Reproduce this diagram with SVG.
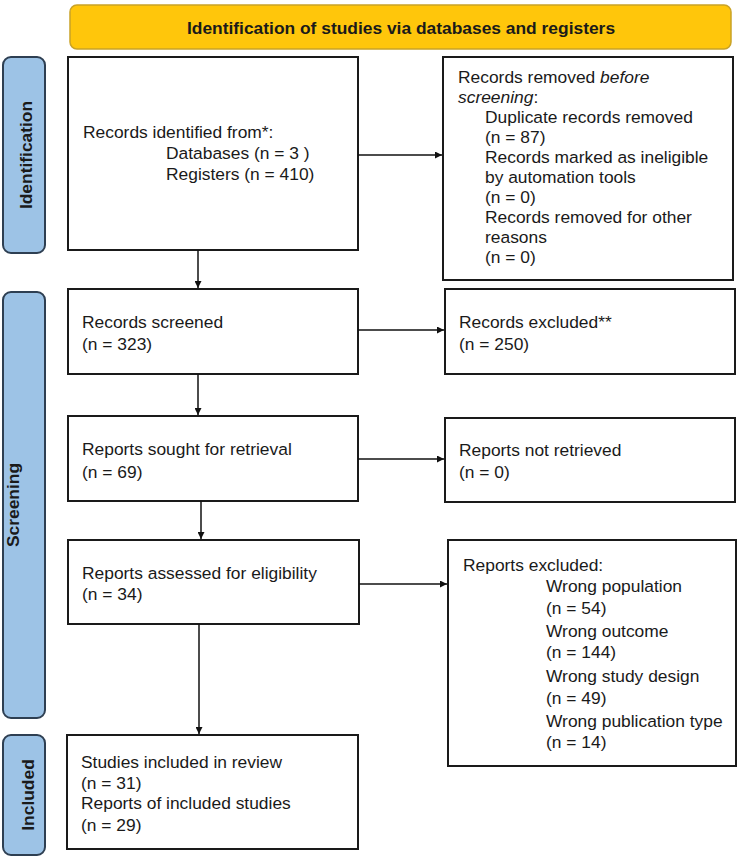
<svg xmlns="http://www.w3.org/2000/svg" width="738" height="859" viewBox="0 0 738 859">
  <defs>
    <marker id="arrow" viewBox="0 0 10 10" refX="10" refY="5" markerWidth="8" markerHeight="7" markerUnits="userSpaceOnUse" orient="auto">
      <path d="M0,0 L10,5 L0,10 z" fill="#111"/>
    </marker>
    <style>
      .box { fill: #fff; stroke: #1a1a1a; stroke-width: 2; }
      .tab { fill: #9dc3e6; stroke: #2e3f52; stroke-width: 2; }
      .hdr { fill: #ffc60b; stroke: #c9a227; stroke-width: 1.5; }
      .t { font-family: "Liberation Sans", Arial, sans-serif; font-size: 17.4px; fill: #1a1a1a; }
      .tb { font-family: "Liberation Sans", Arial, sans-serif; font-size: 17.4px; font-weight: bold; fill: #1a1a1a; }
      .conn { stroke: #111; stroke-width: 1.5; fill: none; marker-end: url(#arrow); }
    </style>
  </defs>
  <rect width="738" height="859" fill="#fff"/>

  <!-- header banner -->
  <g id="header">
    <rect class="hdr" x="70" y="5" width="661" height="44" rx="7"/>
    <text class="tb" x="401" y="34" text-anchor="middle">Identification of studies via databases and registers</text>
  </g>

  <!-- phase tabs -->
  <g id="tab-identification">
    <rect class="tab" x="3" y="57" width="42" height="196" rx="8"/>
    <text class="tb" transform="translate(32,155) rotate(-90)" text-anchor="middle">Identification</text>
  </g>
  <g id="tab-screening">
    <rect class="tab" x="3" y="292" width="42" height="426" rx="8"/>
    <text class="tb" transform="translate(19,505) rotate(-90)" text-anchor="middle">Screening</text>
  </g>
  <g id="tab-included">
    <rect class="tab" x="3" y="735" width="42" height="120" rx="8"/>
    <text class="tb" transform="translate(34,795) rotate(-90)" text-anchor="middle">Included</text>
  </g>

  <!-- main column -->
  <g id="identified">
    <rect class="box" x="68" y="57" width="290" height="193"/>
    <text class="t" x="83" y="138">Records identified from*:</text>
    <text class="t" x="166" y="159">Databases (n = 3 )</text>
    <text class="t" x="166" y="180">Registers (n = 410)</text>
  </g>
  <g id="screened">
    <rect class="box" x="68" y="289" width="290" height="85"/>
    <text class="t" x="82" y="328">Records screened</text>
    <text class="t" x="82" y="350">(n = 323)</text>
  </g>
  <g id="sought">
    <rect class="box" x="68" y="416" width="290" height="85"/>
    <text class="t" x="82" y="455">Reports sought for retrieval</text>
    <text class="t" x="82" y="478">(n = 69)</text>
  </g>
  <g id="assessed">
    <rect class="box" x="68" y="540" width="291" height="84"/>
    <text class="t" x="82" y="579">Reports assessed for eligibility</text>
    <text class="t" x="82" y="600">(n = 34)</text>
  </g>
  <g id="included">
    <rect class="box" x="67" y="735" width="291" height="114"/>
    <text class="t" x="81" y="768">Studies included in review</text>
    <text class="t" x="81" y="789">(n = 31)</text>
    <text class="t" x="81" y="809">Reports of included studies</text>
    <text class="t" x="81" y="831">(n = 29)</text>
  </g>

  <!-- side column -->
  <g id="removed">
    <rect class="box" x="443" y="57" width="290" height="223"/>
    <text class="t" x="458" y="83">Records removed <tspan font-style="italic">before</tspan></text>
    <text class="t" x="458" y="103"><tspan font-style="italic">screening</tspan>:</text>
    <text class="t" x="485" y="123">Duplicate records removed</text>
    <text class="t" x="485" y="143">(n = 87)</text>
    <text class="t" x="485" y="163">Records marked as ineligible</text>
    <text class="t" x="485" y="183">by automation tools</text>
    <text class="t" x="485" y="203">(n = 0)</text>
    <text class="t" x="485" y="223">Records removed for other</text>
    <text class="t" x="485" y="243">reasons</text>
    <text class="t" x="485" y="263">(n = 0)</text>
  </g>
  <g id="excluded">
    <rect class="box" x="445" y="289" width="290" height="85"/>
    <text class="t" x="459" y="328">Records excluded**</text>
    <text class="t" x="459" y="350">(n = 250)</text>
  </g>
  <g id="not-retrieved">
    <rect class="box" x="445" y="418" width="290" height="84"/>
    <text class="t" x="459" y="456">Reports not retrieved</text>
    <text class="t" x="459" y="478">(n = 0)</text>
  </g>
  <g id="reports-excluded">
    <rect class="box" x="448" y="540" width="288" height="226"/>
    <text class="t" x="463" y="571">Reports excluded:</text>
    <text class="t" x="546" y="592">Wrong population</text>
    <text class="t" x="546" y="614">(n = 54)</text>
    <text class="t" x="546" y="637">Wrong outcome</text>
    <text class="t" x="546" y="658">(n = 144)</text>
    <text class="t" x="546" y="682">Wrong study design</text>
    <text class="t" x="546" y="704">(n = 49)</text>
    <text class="t" x="546" y="727">Wrong publication type</text>
    <text class="t" x="546" y="748">(n = 14)</text>
  </g>

  <!-- connectors -->
  <g id="connectors">
    <line class="conn" x1="358" y1="155" x2="442" y2="155"/>
    <line class="conn" x1="198" y1="250" x2="198" y2="288"/>
    <line class="conn" x1="358" y1="330" x2="444" y2="330"/>
    <line class="conn" x1="198" y1="374" x2="198" y2="415"/>
    <line class="conn" x1="358" y1="459" x2="444" y2="459"/>
    <line class="conn" x1="201" y1="501" x2="201" y2="539"/>
    <line class="conn" x1="359" y1="584" x2="447" y2="584"/>
    <line class="conn" x1="199" y1="624" x2="199" y2="734"/>
  </g>
</svg>
